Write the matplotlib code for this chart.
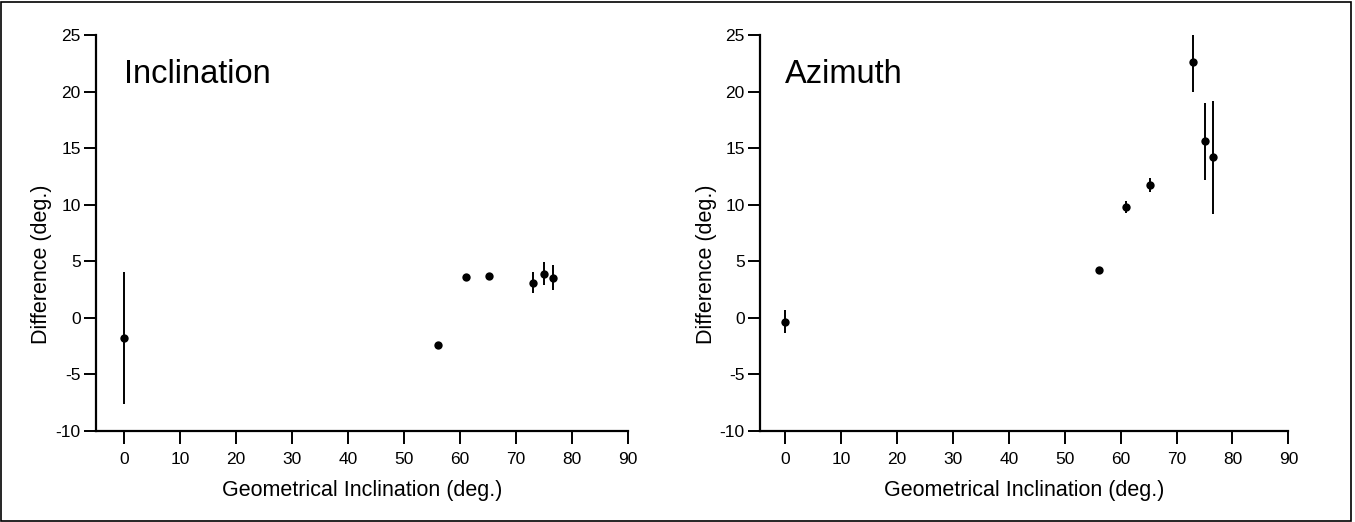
import matplotlib
matplotlib.use("Agg")
import matplotlib.pyplot as plt
from matplotlib.patches import Rectangle

plt.rcParams['font.family'] = ['Liberation Sans', 'DejaVu Sans']
plt.rcParams['axes.unicode_minus'] = False

# Data
geo_incl = [0, 56.1, 61.0, 65.2, 73.0, 75.0, 76.6]
incl_diff = [-1.8, -2.4, 3.6, 3.7, 3.1, 3.9, 3.55]
incl_err = [5.8, 0.0, 0.2, 0.0, 0.95, 1.05, 1.1]
azim_diff = [-0.35, 4.25, 9.8, 11.75, 22.6, 15.6, 14.2]
azim_err = [1.0, 0.0, 0.55, 0.6, 2.6, 3.4, 5.0]
xticks = [0, 10, 20, 30, 40, 50, 60, 70, 80, 90]
yticks = [-10, -5, 0, 5, 10, 15, 20, 25]

fig = plt.figure(figsize=(13.55, 5.22), dpi=100)
axL = fig.add_axes([96/1355, 91.3/522, 532/1355, 395.7/522])
axR = fig.add_axes([760/1355, 91.3/522, 528.4/1355, 395.7/522])

for ax, y, e, title, xl, ylx in [(axL, incl_diff, incl_err, 'Inclination', -5.05, -0.083),
                                 (axR, azim_diff, azim_err, 'Azimuth', -4.5, -0.081)]:
    ax.errorbar(geo_incl, y, yerr=e, fmt='o', color='black', ms=6,
                elinewidth=1.4, capsize=0, mew=0)
    ax.set_xlim(xl, 90)
    ax.set_ylim(-10, 25)
    ax.set_xticks(xticks)
    ax.set_yticks(yticks)
    for s in ['top', 'right']:
        ax.spines[s].set_visible(False)
    for s in ['left', 'bottom']:
        ax.spines[s].set_linewidth(1.6)
    ax.tick_params(direction='out', length=9, width=1.4, labelsize=12.5)
    ax.tick_params(axis='x', pad=6)
    ax.tick_params(axis='y', pad=2)
    ax.set_xlabel('Geometrical Inclination (deg.)', fontsize=15.5)
    ax.set_ylabel('Difference (deg.)', fontsize=15.5)
    ax.xaxis.set_label_coords(0.5, -0.125)
    ax.yaxis.set_label_coords(ylx, 0.42)
    ax.text(0, 21.5, title, fontsize=23.5, va='center', ha='left')
    ax.spines['bottom'].set_bounds(xl, 90)

fig.patches.append(Rectangle((0.001, 0.002), 0.996, 0.995, transform=fig.transFigure,
                             fill=False, edgecolor='black', linewidth=1.2))
fig.savefig('out.png', dpi=100)
